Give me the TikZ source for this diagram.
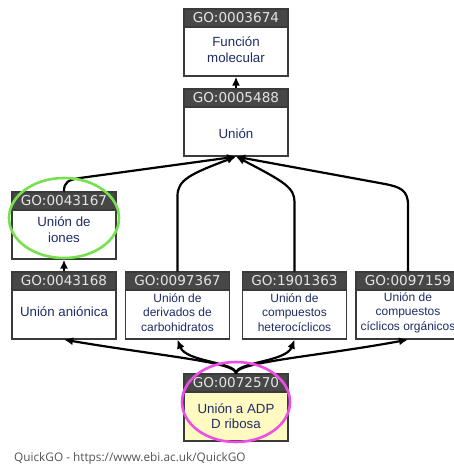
\documentclass[tikz,border=0pt]{standalone}
\usepackage{fontspec}
\setmainfont{Liberation Sans}
\newfontfamily\hdrfont{DejaVu Sans}
\newfontfamily\notefont{Open Sans}
\usetikzlibrary{arrows.meta}

\definecolor{hdrgray}{HTML}{474747}
\definecolor{hdrtext}{HTML}{E4E4E4}
\definecolor{boxline}{HTML}{3A3A3A}
\definecolor{termblue}{HTML}{1F2D66}
\definecolor{queryfill}{HTML}{FFF9C2}
\definecolor{ringgreen}{HTML}{77E04E}
\definecolor{ringpink}{HTML}{EE4EE6}
\definecolor{notegray}{HTML}{555555}

\tikzset{
  gobody/.style={draw=boxline, line width=1.3pt, fill=white, minimum width=104pt,
    minimum height=67pt, inner sep=0pt},
  gohead/.style={draw=boxline, line width=1.3pt, fill=hdrgray, minimum width=104pt,
    minimum height=18pt, inner sep=0pt, text=hdrtext,
    font=\hdrfont\fontsize{13.6}{15}\selectfont},
  golabel/.style={align=center, inner sep=0pt, text=termblue,
    font=\fontsize{13.3}{15.5}\selectfont},
  golabelsmall/.style={align=center, inner sep=0pt, text=termblue,
    font=\fontsize{12}{14.5}\selectfont},
  isa/.style={draw=black, line width=2.2pt, -{Latex[length=9pt,width=8pt]}},
  ring/.style={line width=2.6pt},
}

% #1 name, #2 x centre, #3 top edge, #4 identifier, #5 extra body style
\newcommand\goterm[5]{%
  \node[gobody,#5] (#1) at (#2,#3+33.5) {};
  \node[gohead] (#1-h) at (#2,#3+9) {#4};
}

\begin{document}
\begin{tikzpicture}[x=1pt,y=-1pt]
\useasboundingbox (0,0) rectangle (454,465);
\fill[white] (0,0) rectangle (454,465);

\begin{scope}
\clip (0,0) rectangle (454,465);

% terms
\goterm{F}{236}{9}{GO:0003674}{}
\node[golabel] (F-t) at (236,49.5) {Función\\molecular};

\goterm{U}{236}{89}{GO:0005488}{}
\node[golabel] (U-t) at (236,134) {Unión};

\goterm{I}{64}{192}{GO:0043167}{}
\node[golabel] (I-t) at (64,229.5) {Unión de\\iones};

\goterm{A}{64}{272}{GO:0043168}{}
\node[golabel] (A-t) at (64,312) {Unión aniónica};

\goterm{C}{177.5}{272}{GO:0097367}{}
\node[golabelsmall] (C-t) at (177.5,312.5) {Unión de\\derivados de\\carbohidratos};

\goterm{H}{294.5}{272}{GO:1901363}{}
\node[golabelsmall] (H-t) at (294.5,312.5) {Unión de\\compuestos\\heterocíclicos};

\goterm{O}{408}{272}{GO:0097159}{}
\node[golabelsmall] (O-t) at (408,312.5) {Unión de\\compuestos\\cíclicos orgánicos};

\goterm{B}{236}{374}{GO:0072570}{fill=queryfill}
\node[golabel] (B-t) at (236,416) {Unión a ADP\\D ribosa};

% is_a relations
\draw[isa] (U.north) -- (F.south);
\draw[isa] (A.north) -- (I.south);

\draw[isa] (I.north) .. controls (64,182) and (68,180) .. (80,178) -- (U.south);
\draw[isa] (C.north) -- (177.5,196) .. controls (177.5,180) and (190,174) .. (U.south);
\draw[isa] (H.north) -- (294.5,202) .. controls (294.5,188) and (285,182) .. (U.south);
\draw[isa] (O.north) -- (408,205) .. controls (408,190) and (400,187) .. (385,184) -- (U.south);

\draw[isa] (B.north) .. controls (236,362) and (160,356) .. (A.south);
\draw[isa] (B.north) .. controls (236,362) and (186,362) .. (C.south);
\draw[isa] (B.north) .. controls (236,362) and (286,362) .. (H.south);
\draw[isa] (B.north) .. controls (236,362) and (320,356) .. (O.south);

% highlight rings
\draw[ring, draw=ringgreen] (64,218) ellipse [x radius=55, y radius=40];
\draw[ring, draw=ringpink] (236,402) ellipse [x radius=54, y radius=40];
\end{scope}

\node[anchor=west, inner sep=0pt, text=notegray, font=\notefont\fontsize{11.8}{13}\selectfont]
  (note) at (14,458) {QuickGO - https://www.ebi.ac.uk/QuickGO};
\end{tikzpicture}
\end{document}
